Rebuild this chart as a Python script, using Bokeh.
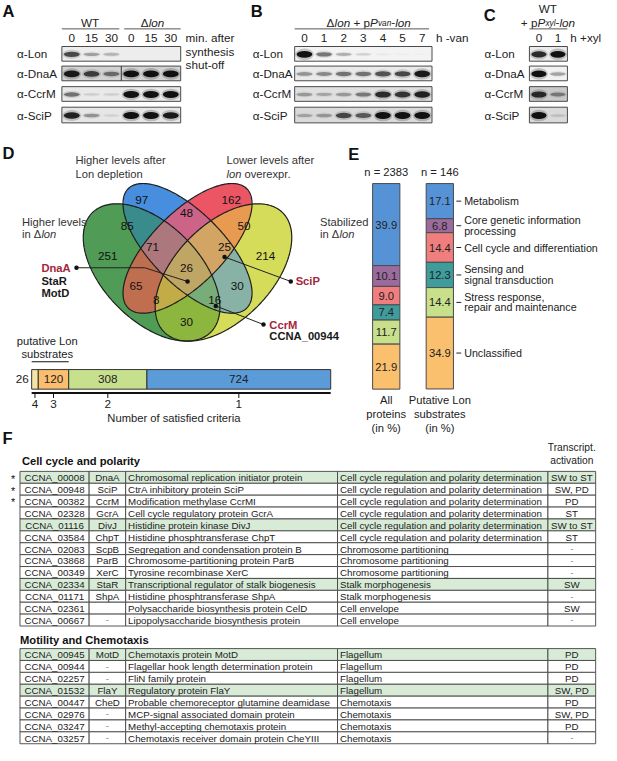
import numpy as np
from bokeh.plotting import figure
from bokeh.models import Range1d, ColumnDataSource
from bokeh.embed import file_html
from bokeh.resources import INLINE
from bokeh.core.properties import value

# ---------------- DATA ----------------
# Panel A (western blots)
A_lanes = ["0", "15", "30", "0", "15", "30"]
blot_rows = ["α-Lon", "α-DnaA", "α-CcrM", "α-SciP"]
A_lon = [0.7, 0.3, 0.22, 0.0, 0.0, 0.0]
A_dnaa = [0.95, 0.75, 0.5, 1.0, 1.0, 1.0]
A_ccrm = [0.5, 0.1, 0.1, 1.0, 1.0, 1.0]
A_scip = [0.9, 0.35, 0.08, 1.0, 1.0, 0.95]
# Panel B
B_lanes = ["0", "1", "2", "3", "4", "5", "7"]
B_lon = [1.0, 0.5, 0.25, 0.12, 0.03, 0.02, 0.01]
B_dnaa = [0.35, 0.4, 0.5, 0.5, 0.65, 0.7, 0.95]
B_ccrm = [0.3, 0.25, 0.3, 0.45, 0.85, 0.8, 0.9]
B_scip = [0.25, 0.3, 0.7, 0.6, 1.0, 1.0, 1.0]
# Panel C
C_lanes = ["0", "1"]
C_lon = [0.85, 1.0]
C_dnaa = [1.0, 0.3]
C_ccrm = [0.85, 0.4]
C_scip = [1.0, 0.12]

# Panel D Venn
venn_sets = ["Higher levels in Δlon", "Higher levels after Lon depletion",
             "Lower levels after lon overexpr.", "Stabilized in Δlon"]
venn_counts = [97, 162, 48, 85, 50, 251, 71, 25, 214, 26, 65, 30, 8, 16, 30]
# Panel D bar
crit_labels = ["4", "3", "2", "1"]
crit_counts = [26, 120, 308, 724]

# Panel E
E_cats = [["Metabolism"], ["Core genetic information", "processing"],
          ["Cell cycle and differentiation"], ["Sensing and", "signal transduction"],
          ["Stress response,", "repair and maintenance"], ["Unclassified"]]
E_all = [39.9, 10.1, 9.0, 7.4, 11.7, 21.9]
E_lon = [17.1, 6.8, 14.4, 12.3, 14.4, 34.9]
E_n = ["n = 2383", "n = 146"]

# Panel F tables
t1_ids = ["CCNA_00008", "CCNA_00948", "CCNA_00382", "CCNA_02328", "CCNA_01116", "CCNA_03584",
          "CCNA_02083", "CCNA_03868", "CCNA_00349", "CCNA_02334", "CCNA_01171", "CCNA_02361", "CCNA_00667"]
t1_names = ["DnaA", "SciP", "CcrM", "GcrA", "DivJ", "ChpT", "ScpB", "ParB", "XerC", "StaR", "ShpA", "", "-"]
t1_desc = ["Chromosomal replication initiator protein", "CtrA inhibitory protein SciP",
           "Modification methylase CcrMI", "Cell cycle regulatory protein GcrA",
           "Histidine protein kinase DivJ", "Histidine phosphtransferase ChpT",
           "Segregation and condensation protein B", "Chromosome-partitioning protein ParB",
           "Tyrosine recombinase XerC", "Transcriptional regulator of stalk biogenesis",
           "Histidine phosphtransferase ShpA", "Polysaccharide biosynthesis protein CelD",
           "Lipopolysaccharide biosynthesis protein"]
t1_func = ["Cell cycle regulation and polarity determination"] * 6 + ["Chromosome partitioning"] * 3 + \
          ["Stalk morphogenesis"] * 2 + ["Cell envelope"] * 2
t1_act = ["SW to ST", "SW, PD", "PD", "ST", "SW to ST", "ST", "-", "-", "-", "SW", "-", "SW", "-"]
t1_hl = [1, 0, 0, 0, 1, 0, 0, 0, 0, 1, 0, 0, 0]
t1_star = [1, 1, 1, 0, 0, 0, 0, 0, 0, 0, 0, 0, 0]

t2_ids = ["CCNA_00945", "CCNA_00944", "CCNA_02257", "CCNA_01532", "CCNA_00447", "CCNA_02976",
          "CCNA_03247", "CCNA_03257"]
t2_names = ["MotD", "-", "-", "FlaY", "CheD", "-", "-", "-"]
t2_desc = ["Chemotaxis protein MotD", "Flagellar hook length determination protein", "FliN family protein",
           "Regulatory protein FlaY", "Probable chemoreceptor glutamine deamidase",
           "MCP-signal associated domain protein", "Methyl-accepting chemotaxis protein",
           "Chemotaxis receiver domain protein CheYIII"]
t2_func = ["Flagellum"] * 4 + ["Chemotaxis"] * 4
t2_act = ["PD", "PD", "PD", "SW, PD", "PD", "SW, PD", "PD", "-"]
t2_hl = [1, 0, 0, 1, 0, 0, 0, 0]

# ---------------- FIGURE ----------------
W, H = 601, 745
SC = W / 617.0
p = figure(width=W, height=H, x_range=Range1d(0, 617), y_range=Range1d(761, 0),
           output_backend="svg", toolbar_location=None, min_border=0,
           x_axis_type=None, y_axis_type=None)
p.grid.visible = False
p.outline_line_color = None

FONT = value("Liberation Sans")
TXT = "#222222"


def fs(px):
    return f"{px * SC:.2f}px"


def T(xs, ys, texts, size=11, align="left", base="middle", style="normal", color=TXT):
    if not isinstance(xs, (list, tuple)):
        xs, ys, texts = [xs], [ys], [texts]
    p.text(x=list(xs), y=list(ys), text=list(texts), text_font=FONT, text_font_size=fs(size),
           text_align=align, text_baseline=base, text_font_style=style, text_color=color)


def tw(s, size):
    w = 0.0
    for c in s:
        if c in "ijl":
            w += .222
        elif c in "ft. ,I":
            w += .278
        elif c in "r-()":
            w += .333
        elif c in "sckxyzvJ":
            w += .5
        elif c == "m":
            w += .833
        elif c == "w":
            w += .722
        elif c == "+":
            w += .584
        elif c in "MW":
            w += .85
        elif c.isupper() or c == "Δ":
            w += .68
        else:
            w += .556
    return w * size


def rich(x, y, parts, align="left", color=TXT):
    total = sum(tw(t, s) for t, st, s, dy in parts)
    if align == "center":
        x -= total / 2
    for t, st, s, dy in parts:
        stripped = t.lstrip(" ")
        x += tw(t[:len(t) - len(stripped)], s)
        T(x, y + dy, stripped, size=s, style=st, color=color)
        x += tw(stripped, s)


def hline(x0, x1, y, color="#333333", w=1.0):
    p.line(x=[x0, x1], y=[y, y], line_color=color, line_width=w)


# ---------------- PANELS A-C: blots ----------------
ROWS_Y = [(47, 62), (67, 82), (88, 103), (109, 125)]


def blot(x0, x1, lanes, intens, bgs, label_x, sep=None):
    n = len(lanes)
    lw = (x1 - x0) / n
    centers = [x0 + (i + 0.5) * lw for i in range(n)]
    T(centers, [38] * n, lanes, size=12, align="center")
    for (y0, y1), bg, row, lab in zip(ROWS_Y, bgs, intens, blot_rows):
        p.quad(left=[x0], right=[x1], top=[y0], bottom=[y1], fill_color=bg,
               line_color="#4a4a4a", line_width=1)
        cy = (y0 + y1) / 2 + 0.5
        hs = [2.0 + 5.0 * v for v in row]
        src = ColumnDataSource(dict(x=centers, y=[cy] * n, w=[lw * 0.8] * n, h=hs,
                                    a=[v for v in row], w2=[lw * 0.95] * n,
                                    h2=[h * 1.7 for h in hs], a2=[v * 0.22 for v in row]))
        p.ellipse(x="x", y="y", width="w2", height="h2", fill_color="#1a1a1a", fill_alpha="a2",
                  line_color=None, source=src)
        p.ellipse(x="x", y="y", width="w", height="h", fill_color="#111111", fill_alpha="a",
                  line_color=None, source=src)
        T(label_x, (y0 + y1) / 2, lab, size=12)
    if sep is not None:
        p.line(x=[sep, sep], y=[ROWS_Y[1][0], ROWS_Y[1][1]], line_color="#333333", line_width=1)
    return centers


# A
T(2, 11, "A", size=17, style="bold", color="#111111")
blot(63, 185, A_lanes, [A_lon, A_dnaa, A_ccrm, A_scip],
     ["#ededed", "#d2d2d2", "#e9e9e9", "#e6e6e6"], 17, sep=124)
T(92, 22, "WT", size=12, align="center")
hline(63, 122, 29, "#555555")
rich(156, 22, [("Δ", "normal", 12, 0), ("lon", "italic", 12, 0)], align="center")
hline(127, 185, 29, "#555555")
T([190, 190, 190], [38, 52, 65], ["min. after", "synthesis", "shut-off"], size=12)

# B
T(257, 11, "B", size=17, style="bold", color="#111111")
blot(302, 443, B_lanes, [B_lon, B_dnaa, B_ccrm, B_scip],
     ["#f3f3f3", "#eaeaea", "#e0e0e0", "#dadada"], 259)
rich(378, 22, [("Δ", "normal", 12, 0), ("lon", "italic", 12, 0), (" + p", "normal", 12, 0),
               ("P", "italic", 12, 0), ("van", "italic", 8.5, 1.5), ("-", "normal", 12, 0),
               ("lon", "italic", 12, 0)], align="center")
hline(302, 440, 29, "#555555")
T(447, 38, "h -van", size=12)

# C
T(496, 15, "C", size=17, style="bold", color="#111111")
blot(543, 582, C_lanes, [C_lon, C_dnaa, C_ccrm, C_scip],
     ["#ebebeb", "#f2f2f2", "#c9c9c9", "#dadada"], 497)
T(562, 8, "WT", size=12, align="center")
rich(562, 22, [("+ p", "normal", 12, 0), ("P", "italic", 12, 0), ("xyl", "italic", 8.5, 1.5),
               ("-", "normal", 12, 0), ("lon", "italic", 12, 0)], align="center")
hline(543, 582, 29, "#555555")
T(585, 38, "h +xyl", size=12)

# ---------------- PANEL D: Venn ----------------
T(2, 156, "D", size=17, style="bold", color="#111111")
VS = 246.0
VX, VT = 192.0, 187.0
# ellipses (cx, cy, a, b, angle) : green, blue, red, yellow
ells = [
    (VX - 0.15 * VS, VT + (0.839 - 0.47) * VS, 0.35 * VS, 0.20 * VS, 45),
    (VX, VT + (0.839 - 0.57) * VS, 0.35 * VS, 0.15 * VS, 45),
    (VX, VT + (0.839 - 0.57) * VS, 0.35 * VS, 0.15 * VS, -45),
    (VX + 0.15 * VS, VT + (0.839 - 0.47) * VS, 0.35 * VS, 0.20 * VS, -45),
]
step = 0.5
gx0, gx1, gy0, gy1 = 80.0, 306.0, 180.0, 354.0
xs = np.arange(gx0, gx1, step) + step / 2
ys = np.arange(gy0, gy1, step) + step / 2
X, Y = np.meshgrid(xs, ys)
code = np.zeros(X.shape, dtype=int)
for k, (cx, cy, a, b, ang) in enumerate(ells):
    t = np.deg2rad(ang)
    dx, dy = X - cx, Y - cy
    u = dx * np.cos(t) + dy * np.sin(t)
    v = -dx * np.sin(t) + dy * np.cos(t)
    code += ((u / a) ** 2 + (v / b) ** 2 <= 1).astype(int) << k
# region colours indexed by membership bits G=1,B=2,R=4,Y=8
lut = np.zeros((16, 4), dtype=np.uint8)
reg_col = {1: (80, 155, 85), 2: (72, 142, 222), 4: (236, 86, 100), 8: (212, 220, 90),
           3: (58, 140, 140), 6: (205, 100, 135), 12: (232, 155, 80), 9: (140, 182, 62),
           5: (192, 110, 80), 10: (135, 178, 165), 7: (172, 120, 125), 14: (210, 165, 100),
           13: (195, 172, 72), 11: (120, 172, 120), 15: (192, 166, 100)}
for k, c in reg_col.items():
    lut[k] = (c[0], c[1], c[2], 255)
rgba = lut[code]
img = rgba.view(dtype=np.uint32).reshape(code.shape)
p.image_rgba(image=[img], x=gx0, y=gy0, dw=gx1 - gx0, dh=gy1 - gy0)

tt = np.linspace(0, 2 * np.pi, 300)
olx, oly = [], []
for cx, cy, a, b, ang in ells:
    th = np.deg2rad(ang)
    olx.append(list(cx + a * np.cos(tt) * np.cos(th) - b * np.sin(tt) * np.sin(th)))
    oly.append(list(cy + a * np.cos(tt) * np.sin(th) + b * np.sin(tt) * np.cos(th)))
p.multi_line(xs=olx, ys=oly, line_color="#1e1e1e", line_width=1.2)

venn_pos = [(145, 204), (237, 204), (191, 217), (130, 230), (250, 230), (110, 261), (156, 252),
            (230, 252), (272, 261), (191, 273), (139, 292), (243, 292), (160, 306), (220, 306),
            (191, 328)]
T([q[0] for q in venn_pos], [q[1] for q in venn_pos], [str(c) for c in venn_counts],
  size=12, align="center", color="#111111")

T([77, 77], [163, 177], ["Higher levels after", "Lon depletion"], size=11.5, color="#333333")
T(232, 163, "Lower levels after", size=11.5, color="#333333")
rich(232, 177, [("lon", "italic", 11.5, 0), (" overexpr.", "normal", 11.5, 0)], color="#333333")
T(22, 226, "Higher levels", size=11.5, color="#333333")
rich(22, 239, [("in Δ", "normal", 11.5, 0), ("lon", "italic", 11.5, 0)], color="#333333")
T(328, 226, "Stabilized", size=11.5, color="#333333")
rich(328, 239, [("in Δ", "normal", 11.5, 0), ("lon", "italic", 11.5, 0)], color="#333333")

RED = "#a3263b"
p.line(x=[78, 148, 192], y=[273, 273, 287], line_color="#222222", line_width=1)
p.line(x=[230, 298], y=[262, 287], line_color="#222222", line_width=1)
p.line(x=[221, 270], y=[312, 331], line_color="#222222", line_width=1)
p.scatter(x=[78, 192, 230, 298, 221, 270], y=[273, 287, 262, 287, 312, 331], size=4.5,
          fill_color="#111111", line_color=None)
T(42, 273, "DnaA", size=11.5, style="bold", color=RED)
T([42, 42], [287, 299], ["StaR", "MotD"], size=11.5, style="bold", color="#1a1a1a")
T(303, 287, "SciP", size=11.5, style="bold", color=RED)
T(276, 331, "CcrM", size=11.5, style="bold", color=RED)
T(276, 343, "CCNA_00944", size=11.5, style="bold", color="#1a1a1a")

# D bar
crit_colors = ["#f5e3a8", "#fbbe6e", "#c7e08d", "#5a9bd8"]
BX0, BX1, BY0, BY1 = 32.0, 339.0, 377.0, 397.0
tot = float(sum(crit_counts))
cum = np.concatenate([[0], np.cumsum(crit_counts)]) / tot
lefts = list(BX0 + cum[:-1] * (BX1 - BX0))
rights = list(BX0 + cum[1:] * (BX1 - BX0))
p.quad(left=lefts, right=rights, top=[BY0] * 4, bottom=[BY1] * 4, fill_color=crit_colors,
       line_color="#333333", line_width=1)
mids = [(l + r) / 2 for l, r in zip(lefts, rights)]
T(mids[1:], [387] * 3, [str(c) for c in crit_counts[1:]], size=12, align="center")
T(29, 387, str(crit_counts[0]), size=12, align="right")
hline(BX0, BX1, 401, "#111111", 2)
p.multi_line(xs=[[m, m] for m in mids], ys=[[401, 406]] * 4, line_color="#111111", line_width=1)
T(mids, [412] * 4, crit_labels, size=12, align="center")
T(178, 426, "Number of satisfied criteria", size=11.5, align="center")
T([48, 48], [348, 361], ["putative Lon", "substrates"], size=11.5, align="center")
hline(BX0, rights[1], 369, "#111111", 1.2)

# ---------------- PANEL E ----------------
T(357, 157, "E", size=17, style="bold", color="#111111")
E_colors = ["#5593d6", "#9b6b9d", "#f07e7e", "#3f9c9c", "#c8e08c", "#fbc06e"]
EY0, EPX = 187.0, 2.1
bars = [(382.0, 410.0, E_all), (437.0, 465.0, E_lon)]
for x0, x1, vals in bars:
    c = np.concatenate([[0], np.cumsum(vals)])
    tops = list(EY0 + c[:-1] * EPX)
    bots = list(EY0 + c[1:] * EPX)
    p.quad(left=[x0] * len(vals), right=[x1] * len(vals), top=tops, bottom=bots,
           fill_color=E_colors, line_color="#4a4a4a", line_width=1)
    T([(x0 + x1) / 2] * len(vals), [(a + b) / 2 for a, b in zip(tops, bots)],
      [f"{v:.1f}" for v in vals], size=11.5, align="center")
    if vals is E_lon:
        lmid = [(a + b) / 2 for a, b in zip(tops, bots)]
T([396, 451], [175, 175], E_n, size=11.5, align="center")
p.multi_line(xs=[[468, 473]] * 6, ys=[[m, m] for m in lmid], line_color="#222222", line_width=1)
for m, lines in zip(lmid, E_cats):
    if len(lines) == 1:
        T(476, m, lines[0], size=11)
    else:
        T([476, 476], [m - 6, m + 5], lines, size=11)
T([396] * 3, [408, 422, 437], ["All", "proteins", "(in %)"], size=11.5, align="center")
T([451] * 3, [408, 422, 437], ["Putative Lon", "substrates", "(in %)"], size=11.5, align="center")

# ---------------- PANEL F: tables ----------------
T(2, 447, "F", size=17, style="bold", color="#111111")
COLS = [20.0, 91.0, 128.5, 346.0, 562.0, 611.0]
RH = 12.15
HL = "#d7ebd7"
TS = 10.0


def table(top, ids, names, desc, func, act, hl):
    n = len(ids)
    L, R, Tp, B, F = [], [], [], [], []
    for i in range(n):
        for j in range(5):
            L.append(COLS[j]); R.append(COLS[j + 1])
            Tp.append(top + i * RH); B.append(top + (i + 1) * RH)
            F.append(HL if hl[i] else "#ffffff")
    p.quad(left=L, right=R, top=Tp, bottom=B, fill_color=F, line_color="#444444", line_width=0.9)
    cy = [top + (i + 0.5) * RH + 0.4 for i in range(n)]
    T([(COLS[0] + COLS[1]) / 2] * n, cy, ids, size=TS, align="center")
    nm_col = ["#888888" if s == "-" else TXT for s in names]
    p.text(x=[(COLS[1] + COLS[2]) / 2] * n, y=cy, text=names, text_font=FONT, text_font_size=fs(TS),
           text_align="center", text_baseline="middle", text_color=nm_col)
    T([COLS[2] + 2.5] * n, cy, desc, size=TS)
    T([COLS[3] + 2.5] * n, cy, func, size=TS)
    ac_col = ["#888888" if s == "-" else TXT for s in act]
    p.text(x=[(COLS[4] + COLS[5]) / 2] * n, y=cy, text=act, text_font=FONT, text_font_size=fs(TS),
           text_align="center", text_baseline="middle", text_color=ac_col)
    return cy


T(22, 470, "Cell cycle and polarity", size=11.5, style="bold", color="#111111")
T([586.5, 586.5], [457, 470], ["Transcript.", "activation"], size=10.5, align="center")
cy1 = table(481.0, t1_ids, t1_names, t1_desc, t1_func, t1_act, t1_hl)
sx = [13] * sum(t1_star)
sy = [cy1[i] + 1 for i in range(len(cy1)) if t1_star[i]]
T(sx, sy, ["*"] * len(sx), size=11, align="center", color="#111111")
T(20, 653, "Motility and Chemotaxis", size=11.5, style="bold", color="#111111")
table(662.0, t2_ids, t2_names, t2_desc, t2_func, t2_act, t2_hl)

open("out.html", "w").write(file_html(p, INLINE))
